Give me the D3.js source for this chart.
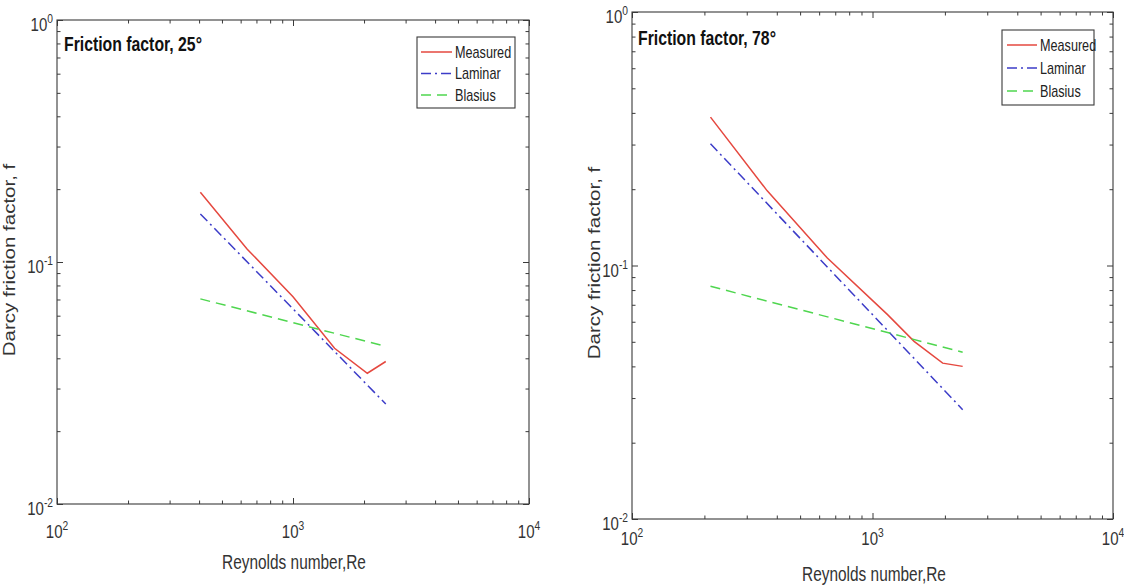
<!DOCTYPE html>
<html>
<head>
<meta charset="utf-8">
<style>
  body { margin: 0; background: #fff; }
  svg { display: block; font-family: "Liberation Sans", Arial, Helvetica, sans-serif; }
</style>
</head>
<body>
<svg width="1124" height="585"></svg>
<script src="https://d3js.org/d3.v7.min.js"></script>
<script>
// ---- data ----
// 25 degree panel
var re25 = [405, 640, 1000, 1500, 2065, 2472];
var measured25 = [0.194, 0.113, 0.0719, 0.044, 0.0347, 0.0388];
var lamRe25 = [405, 2472];
var laminar25 = [0.158, 0.0259];
var blasRe25 = [405, 2472];
var blasius25 = [0.0704, 0.0448];

// 78 degree panel
var re78 = [212, 365, 649, 1155, 1489, 1958, 2371];
var measured78 = [0.385, 0.197, 0.107, 0.064, 0.0502, 0.0412, 0.040];
var lamRe78 = [212, 2371];
var laminar78 = [0.302, 0.027];
var blasRe78 = [212, 2371];
var blasius78 = [0.0828, 0.0455];

// axes
var xTicks = [100, 1000, 10000];
var xTickExp = ["2", "3", "4"];
var yTicks = [0.01, 0.1, 1];
var yTickExp = ["-2", "-1", "0"];
var xMinor = [200, 300, 400, 500, 600, 700, 800, 900, 2000, 3000, 4000, 5000, 6000, 7000, 8000, 9000];
var yMinor = [0.02, 0.03, 0.04, 0.05, 0.06, 0.07, 0.08, 0.09, 0.2, 0.3, 0.4, 0.5, 0.6, 0.7, 0.8, 0.9];

var legendNames = ["Measured", "Laminar", "Blasius"];
var titles = ["Friction factor, 25\u00b0", "Friction factor, 78\u00b0"];
var xLabel = "Reynolds number,Re";
var yLabel = "Darcy friction factor, f";

// ---- drawing ----
var svg = d3.select("svg");
var SX = 0.79; // the picture is squeezed horizontally

var styles = [
  { color: "#e5483f", dash: null },
  { color: "#3c3cc8", dash: "10,4,2,4" },
  { color: "#4fd64f", dash: "10,6" }
];

var panels = [
  {
    left: 57, right: 529, top: 20, bottom: 504,
    title: [64, 51], xlab: [294, 569], ylab: [15, 260], xTickY: 538,
    legend: { x: 417, y: 37, w: 98, h: 71, rows: [52, 73.5, 95], lx0: 421, lx1: 452, tx: 455 },
    series: [[re25, measured25], [lamRe25, laminar25], [blasRe25, blasius25]],
    title_text: titles[0]
  },
  {
    left: 632, right: 1113, top: 12, bottom: 519,
    title: [638, 45], xlab: [874, 581], ylab: [600, 263], xTickY: 545,
    legend: { x: 1002, y: 30, w: 92, h: 75, rows: [45, 68, 91], lx0: 1007, lx1: 1037, tx: 1040 },
    series: [[re78, measured78], [lamRe78, laminar78], [blasRe78, blasius78]],
    title_text: titles[1]
  }
];

function squeezed(g, x, y, extra) {
  return g.append("text")
    .attr("transform", "translate(" + x + "," + y + ") scale(" + SX + ",1)" + (extra || ""));
}

panels.forEach(function (p) {
  var g = svg.append("g");

  var x = d3.scaleLog().domain([100, 10000]).range([p.left, p.right]);
  var y = d3.scaleLog().domain([0.01, 1]).range([p.bottom, p.top]);

  // ticks on all four sides, pointing in
  function ticks(axis, transform, values, size) {
    g.append("g")
      .attr("transform", transform)
      .call(axis.tickValues(values).tickSizeInner(-size).tickSizeOuter(0).tickFormat(""))
      .call(function (a) {
        a.select(".domain").remove();
        a.selectAll("line").attr("stroke", "#3a3a3a");
      });
  }
  ticks(d3.axisBottom(x), "translate(0," + p.bottom + ")", xMinor, 3.5);
  ticks(d3.axisBottom(x), "translate(0," + p.bottom + ")", xTicks, 6);
  ticks(d3.axisTop(x), "translate(0," + p.top + ")", xMinor, 3.5);
  ticks(d3.axisTop(x), "translate(0," + p.top + ")", xTicks, 6);
  ticks(d3.axisLeft(y), "translate(" + p.left + ",0)", yMinor, 3.5);
  ticks(d3.axisLeft(y), "translate(" + p.left + ",0)", yTicks, 6);
  ticks(d3.axisRight(y), "translate(" + p.right + ",0)", yMinor, 3.5);
  ticks(d3.axisRight(y), "translate(" + p.right + ",0)", yTicks, 6);

  g.append("rect")
    .attr("x", p.left).attr("y", p.top)
    .attr("width", p.right - p.left).attr("height", p.bottom - p.top)
    .attr("fill", "none").attr("stroke", "#3a3a3a").attr("stroke-width", 1.1);

  // tick labels
  xTicks.forEach(function (v, i) {
    var t = squeezed(g, x(v), p.xTickY).attr("text-anchor", "middle")
      .attr("fill", "#333").style("font-size", "19px");
    t.append("tspan").text("10");
    t.append("tspan").attr("dy", -8).style("font-size", "13px").text(xTickExp[i]);
  });
  yTicks.forEach(function (v, i) {
    var t = squeezed(g, p.left - 4, y(v) + 11).attr("text-anchor", "end")
      .attr("fill", "#333").style("font-size", "19px");
    t.append("tspan").text("10");
    t.append("tspan").attr("dy", -8).style("font-size", "13px").text(yTickExp[i]);
  });

  // axis labels
  squeezed(g, p.xlab[0], p.xlab[1]).attr("text-anchor", "middle")
    .attr("fill", "#333").style("font-size", "19.5px").text(xLabel);
  squeezed(g, p.ylab[0], p.ylab[1], " rotate(-90)").attr("text-anchor", "middle")
    .attr("fill", "#333").style("font-size", "20.5px").text(yLabel);

  // title
  squeezed(g, p.title[0], p.title[1]).attr("fill", "#111")
    .style("font-size", "20px").style("font-weight", "bold").text(p.title_text);

  // lines
  var line = d3.line().x(function (d) { return x(d[0]); }).y(function (d) { return y(d[1]); });
  p.series.forEach(function (s, i) {
    g.append("path")
      .datum(d3.zip(s[0], s[1]))
      .attr("fill", "none")
      .attr("stroke", styles[i].color)
      .attr("stroke-width", 1.5)
      .attr("stroke-dasharray", styles[i].dash)
      .attr("d", line);
  });

  // legend
  var L = p.legend;
  g.append("rect")
    .attr("x", L.x).attr("y", L.y).attr("width", L.w).attr("height", L.h)
    .attr("fill", "#fff").attr("stroke", "#3a3a3a").attr("stroke-width", 1.1);
  legendNames.forEach(function (name, i) {
    g.append("line")
      .attr("x1", L.lx0).attr("x2", L.lx1)
      .attr("y1", L.rows[i]).attr("y2", L.rows[i])
      .attr("stroke", styles[i].color).attr("stroke-width", 1.5)
      .attr("stroke-dasharray", styles[i].dash);
    squeezed(g, L.tx, L.rows[i] + 5.7).attr("fill", "#222")
      .style("font-size", "16px").text(name);
  });
});
</script>
</body>
</html>
